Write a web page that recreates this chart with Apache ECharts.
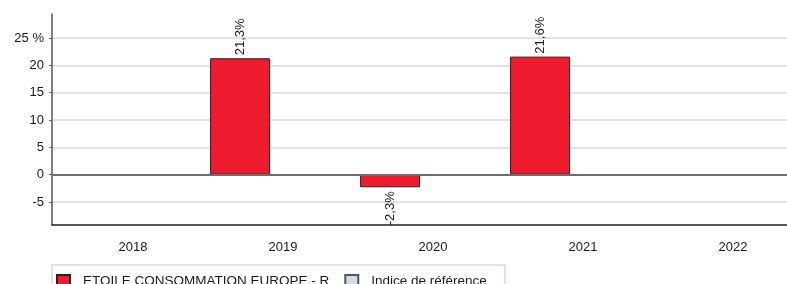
<!DOCTYPE html>
<html>
<head>
<meta charset="utf-8">
<script src="https://cdn.jsdelivr.net/npm/echarts@6/dist/echarts.min.js"></script>
<style>
    html, body { margin: 0; padding: 0; background: #fff; overflow: hidden; }
    #myChart { width: 802px; height: 284px; }
</style>
</head>
<body>
<div id="myChart"></div>
<script>
const categories = ["2018", "2019", "2020", "2021", "2022"];
const fundValues = [null, 21.3, -2.3, 21.6, null];
const benchValues = [null, null, null, null, null];
const yTicks = [-5, 0, 5, 10, 15, 20, 25];
const seriesNames = ["ETOILE CONSOMMATION EUROPE - R", "Indice de référence"];

const fmtPct = (v) => v.toFixed(1).replace(".", ",") + "%";
const font = "Liberation Sans, Arial, sans-serif";

// the plot runs ~15px past the right edge of the window, so the div is wider
const myChart = echarts.init(document.getElementById("myChart"));
const option = {
    animation: false,
    textStyle: { fontFamily: font },
    grid: {
        left: 52,
        top: 14,
        right: 0,
        bottom: 59,
    },
    legend: {
        left: 52,
        top: 265,
        orient: "horizontal",
        padding: [9, 18, 9, 4],
        borderColor: "#e2e2e2",
        borderWidth: 2,
        itemWidth: 13,
        itemHeight: 13,
        itemGap: 15,
        icon: "rect",
        textStyle: { fontSize: 13.5, color: "#1a1a1a", padding: [0, 0, 0, 8] },
        data: seriesNames,
    },
    xAxis: {
        type: "category",
        data: categories,
        axisLine: { onZero: false, lineStyle: { color: "#222", width: 1.5 } },
        axisTick: { alignWithLabel: true, length: 5, lineStyle: { color: "#333" } },
        axisLabel: { color: "#1a1a1a", fontSize: 13, margin: 16, padding: [0, 0, 0, 12] },
        splitLine: { show: false },
    },
    yAxis: {
        type: "value",
        min: -9.2,
        max: 29.4,
        axisLine: { show: true, lineStyle: { color: "#555", width: 1.5 } },
        axisTick: { show: true, length: 3, customValues: yTicks, lineStyle: { color: "#666" } },
        axisLabel: {
            customValues: yTicks,
            color: "#1a1a1a",
            fontSize: 13,
            margin: 8,
            formatter: (v) => (v === 25 ? "25 %" : String(v)),
        },
        splitLine: { show: true, lineStyle: { color: "#dadada", width: 1.5 } },
    },
    series: [
        {
            name: seriesNames[0],
            type: "bar",
            barWidth: 60,
            barGap: "23%",
            data: fundValues.map((v) =>
                v === null
                    ? null
                    : {
                          value: v,
                          label: v < 0
                              ? { position: "bottom", align: "right", distance: 4 }
                              : { position: "top", align: "left", distance: 3 },
                      }
            ),
            itemStyle: { color: "#ee1c2e", borderColor: "#222", borderWidth: 1 },
            label: {
                show: true,
                rotate: 90,
                verticalAlign: "middle",
                fontSize: 13,
                color: "#1a1a1a",
                formatter: (p) => fmtPct(p.value),
            },
            markLine: {
                silent: true,
                symbol: "none",
                label: { show: false },
                lineStyle: { color: "#6e6e6e", width: 2, type: "solid" },
                data: [{ yAxis: 0 }],
            },
            z: 3,
        },
        {
            name: seriesNames[1],
            type: "bar",
            barWidth: 60,
            data: benchValues,
            itemStyle: { color: "#d3dbe3", borderColor: "#555", borderWidth: 1 },
        },
    ],
};
myChart.setOption(option);
</script>
</body>
</html>
